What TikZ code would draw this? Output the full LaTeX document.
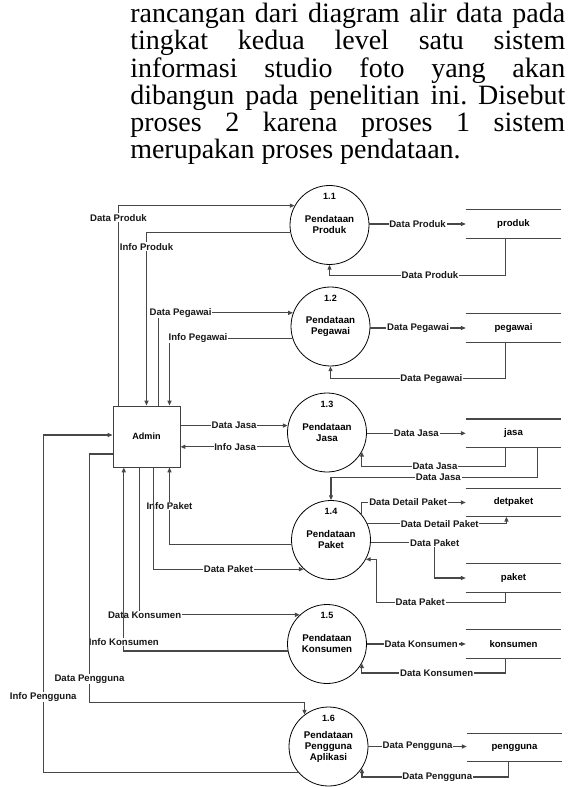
\documentclass[tikz,border=0pt]{standalone}
\usepackage{fontspec}
\setmainfont{Liberation Serif}
\newfontfamily\diafont{Liberation Sans}
\usetikzlibrary{arrows.meta,calc}

\begin{document}
\begin{tikzpicture}[x=0.75pt,y=-0.75pt,
  wire/.style={draw=black!72, line width=0.85pt},
  flow/.style={wire, -{Triangle[length=3.6pt,width=3pt]}},
  lbl/.style={fill=white, inner sep=0.6pt, text=black!90,
    font=\diafont\bfseries\fontsize{7.2}{8}\selectfont},
  proc/.style={circle, draw=black, line width=0.6pt, minimum size=59.25pt,
    inner sep=0pt, align=center,
    font=\diafont\bfseries\fontsize{7.3}{8.25}\selectfont},
  pnum/.style={inner sep=0pt, font=\diafont\bfseries\fontsize{6.8}{7}\selectfont},
  entity/.style={draw=black!75, line width=0.75pt, minimum width=50.25pt,
    minimum height=45.75pt, inner sep=0pt,
    font=\diafont\bfseries\fontsize{6.8}{7}\selectfont},
  store/.style={minimum width=71.25pt, minimum height=21pt, inner sep=0pt,
    font=\diafont\bfseries\fontsize{7.2}{8}\selectfont},
  storeline/.style={draw=black!72, line width=0.85pt},
  para/.style={anchor=north west, inner sep=0pt, text width=326.25pt,
    align=justify, font=\fontsize{21}{20.4}\selectfont}
]
\useasboundingbox (0,0) rectangle (575,787);

% paragraph above the diagram
\node[para] (para) at (130,3) {\hyphenpenalty=10000\frenchspacing
rancangan dari diagram alir data pada\linebreak
tingkat kedua level satu sistem\linebreak
informasi studio foto yang akan\linebreak
dibangun pada penelitian ini. Disebut\linebreak
proses 2 karena proses 1 sistem\linebreak
merupakan proses pendataan.};

% external entity
\node[entity] (admin) at (146.5,436.5) {Admin};

% processes
\node[proc] (p11) at (329.5,225) {Pendataan\\Produk};
\node[proc] (p12) at (330.5,326.5) {Pendataan\\Pegawai};
\node[proc] (p13) at (327,432.5) {Pendataan\\Jasa};
\node[proc] (p14) at (331,540) {Pendataan\\Paket};
\node[proc] (p15) at (327,644) {Pendataan\\Konsumen};
\node[proc] (p16) at (328.5,746.5) {Pendataan\\Pengguna\\Aplikasi};
\foreach \p/\n in {p11/1.1,p12/1.2,p13/1.3,p14/1.4,p15/1.5,p16/1.6}
  \node[pnum] (\p n) at ($(\p)+(0,-28.5)$) {\n};

% data stores
\node[store] (s1) at (513.5,224) {produk};
\node[store] (s2) at (513.5,328) {pegawai};
\node[store] (s3) at (513.5,433.3) {jasa};
\node[store] (s4) at (513.5,502.5) {detpaket};
\node[store] (s5) at (513.5,578) {paket};
\node[store] (s6) at (513.5,644) {konsumen};
\node[store] (s7) at (514.5,747.5) {pengguna};
\foreach \s in {s1,s2,s3,s4,s5,s6,s7}
  \draw[storeline] (\s.north west) -- (\s.north east)
                   (\s.south west) -- (\s.south east);

% Admin <-> processes, top side
\draw[flow] ($(admin.north west)+(6,0)$) |- (p11.151)
  node[lbl,pos=0.47] (l01) {Data Produk};
\draw[flow] (p11.191) -| ($(admin.north west)+(34,0)$)
  node[lbl,pos=0.541] (l02) {Info Produk};
\draw[flow] ($(admin.north west)+(46,0)$) |- (p12.160)
  node[lbl,pos=0.582] (l03) {Data Pegawai};
\draw[flow] (p12.197) -| ($(admin.north west)+(57,0)$)
  node[lbl,pos=0.384] (l04) {Info Pegawai};

% Admin <-> Pendataan Jasa
\draw[flow] (admin.east |- p13.170) -- (p13.170)
  node[lbl,midway] (l05) {Data Jasa};
\draw[flow] (p13.201) -- (admin.east |- p13.201)
  node[lbl,midway] (l06) {Info Jasa};

% Admin <-> Pendataan Paket
\draw[flow] (p14.187) -| ($(admin.south west)+(57,0)$)
  node[lbl,pos=0.752] (l07) {Info Paket};
\draw[flow] ($(admin.south west)+(40.7,0)$) |- (p14.227)
  node[lbl,pos=0.75] (l08) {Data Paket};

% Admin <-> Pendataan Konsumen
\draw[flow] ($(admin.south west)+(27.3,0)$) |- (p15.133)
  node[lbl,pos=0.515] (l09) {Data Konsumen};
\draw[flow] (p15.190) -| ($(admin.south west)+(11.3,0)$)
  node[lbl,pos=0.524] (l10) {Info Konsumen};

% Admin <-> Pendataan Pengguna Aplikasi
\draw[flow] ($(admin.west)+(0,17.5)$) -| ($(admin.west)+(-23,266.2)$)
  node[lbl,pos=0.952] (l11) {Data Pengguna} -| (p16.127);
\draw[flow] (p16.221) -| ($(admin.west)+(-69.3,-1.5)$)
  node[lbl,pos=0.612] (l12) {Info Pengguna} -- ($(admin.west)+(0,-1.5)$);

% processes -> stores
\draw[flow] (p11.east |- s1.west) -- (s1.west) node[lbl,midway] (l13) {Data Produk};
\draw[flow] (p12.east |- s2.west) -- (s2.west) node[lbl,midway] (l14) {Data Pegawai};
\draw[flow] (p13.east |- s3.west) -- (s3.west) node[lbl,midway] (l15) {Data Jasa};
\draw[flow] (p14.41) |- (s4.west) node[lbl,pos=0.725] (l16) {Data Detail Paket};
\draw[flow] (p14.24) -| ($(s4.south west)+(40.7,0)$)
  node[lbl,pos=0.26] (l17) {Data Detail Paket};
\draw[flow] (p14.356) -| ($(s5.west)+(-31,0)$)
  node[lbl,pos=0.5] (l18) {Data Paket} -- (s5.west);
\draw[flow] (p15.east |- s6.west) -- (s6.west) node[lbl,pos=0.55] (l19) {Data Konsumen};
\draw[flow] (p16.east) -- (p16.east -| s7.west) node[lbl,midway] (l20) {Data Pengguna};

% stores -> processes
\draw[flow] ($(s1.south west)+(40,0)$) -- ++(0,37) -| (p11.south)
  node[lbl,pos=0.215] (l21) {Data Produk};
\draw[flow] ($(s2.south west)+(40,0)$) -- ++(0,36.3) -| (p12.south)
  node[lbl,pos=0.212] (l22) {Data Pegawai};
\draw[flow] ($(s3.south west)+(40,0)$) -- ++(0,18.7) -| (p13.331)
  node[lbl,pos=0.246] (l23) {Data Jasa};
\draw[flow] ($(s3.south west)+(71.7,0)$) -- ++(0,30) -| (p14.north)
  node[lbl,pos=0.24] (l24) {Data Jasa};
\draw[flow] ($(s5.south west)+(40,0)$) -- ++(0,10) -| ($(p14.331)+(11,0)$)
  node[lbl,pos=0.332] (l25) {Data Paket} -- (p14.331);
\draw[flow] ($(s6.south west)+(40,0)$) -- ++(0,14.7) -| (p15.331)
  node[lbl,pos=0.24] (l26) {Data Konsumen};
\draw[flow] ($(s7.south west)+(41.7,0)$) -- ++(0,15.2) -| (p16.327)
  node[lbl,pos=0.243] (l27) {Data Pengguna};
\end{tikzpicture}
\end{document}
